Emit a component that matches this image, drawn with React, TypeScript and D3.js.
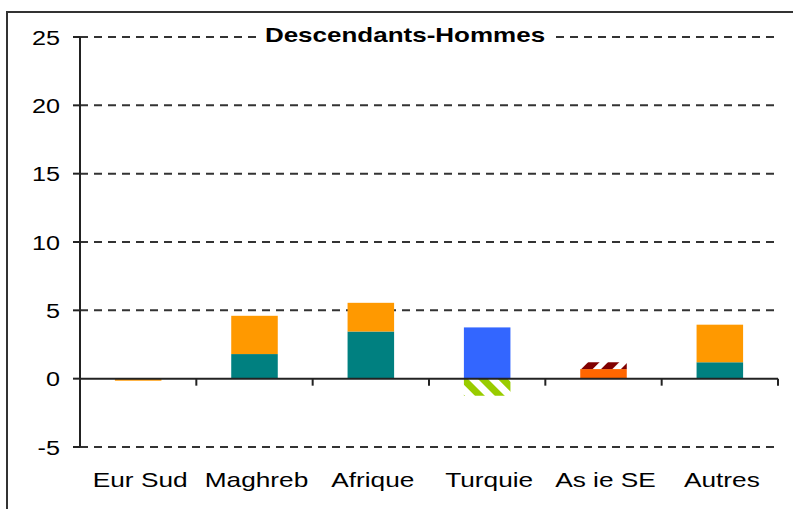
import * as d3 from 'd3';

const categories = ['Eur Sud', 'Maghreb', 'Afrique', 'Turquie', 'As ie SE', 'Autres'];
const yTicks = [-5, 0, 5, 10, 15, 20, 25];

// stacked series
const tealVals = [0, 1.8, 3.45, 0, 0, 1.2];
const orangeVals = [-0.15, 2.8, 2.1, 0, 0, 2.75];
const blueVals = [0, 0, 0, 3.75, 0, 0];
const greenVals = [0, 0, 0, -1.25, 0, 0];
const redOrangeVals = [0, 0, 0, 0, 0.7, 0];
const darkRedVals = [0, 0, 0, 0, 0.5, 0];

const seriesKeys = ['teal', 'orange', 'blue', 'green', 'redOrange', 'darkRed'];
const fills: Record<string, string> = {
  teal: '#008080', orange: '#FF9900', blue: '#3366FF',
  green: 'url(#hatchGreen)', redOrange: '#FF6600', darkRed: 'url(#hatchRed)',
};

const font = 'Liberation Sans, Arial, sans-serif';

// old excel export: text looks stretched sideways
function Wide({ x, y, anchor, size, bold, sx, children }: any) {
  return (
    <text transform={`translate(${x},${y}) scale(${sx},1)`} textAnchor={anchor}
      fontFamily={font} fontSize={size} fontWeight={bold ? 'bold' : 'normal'} fill="#000">{children}</text>
  );
}

export default function App() {
  const W = 793, H = 509;
  const m = { left: 80, right: 15, top: 37, bottom: 62 };
  const rows = categories.map((c, i) => ({
    cat: c, teal: tealVals[i], orange: orangeVals[i], blue: blueVals[i],
    green: greenVals[i], redOrange: redOrangeVals[i], darkRed: darkRedVals[i],
  }));
  const stacked = d3.stack<any>().keys(seriesKeys).offset(d3.stackOffsetDiverging)(rows);

  const x = d3.scaleBand().domain(categories).range([m.left, W - m.right]).paddingInner(0.6).paddingOuter(0.3);
  const xb = d3.scaleBand().domain(categories).range([m.left, W - m.right]);
  const y = d3.scaleLinear().domain([-5, 25]).range([H - m.bottom, m.top]);

  return (
    <svg width={W} height={H} style={{ position: 'absolute', left: 0, top: 0 }}>
      <defs>
        <pattern id="hatchGreen" patternUnits="userSpaceOnUse" width="14" height="14" patternTransform="rotate(-45)">
          <rect x="0" y="0" width="7" height="14" fill="#99CC00" />
        </pattern>
        <pattern id="hatchRed" patternUnits="userSpaceOnUse" width="14" height="14" patternTransform="rotate(45)">
          <rect x="0" y="0" width="8" height="14" fill="#800000" />
        </pattern>
      </defs>
      <rect x={0} y={0} width={W} height={H} fill="#fff" />
      <rect x={7} y={12} width={W + 20} height={H + 20} fill="none" stroke="#333" strokeWidth={2} />

      {/* gridlines */}
      {yTicks.filter(t => t !== 0).map(t => (
        <line key={t} x1={m.left} x2={W - m.right} y1={y(t)} y2={y(t)} stroke="#333" strokeWidth={2} strokeDasharray="8,6" />
      ))}

      {/* bars */}
      {stacked.map(s => (
        <g key={s.key} fill={fills[s.key]}>
          {s.map((d, i) => d[1] - d[0] === 0 ? null : (
            <rect key={i} x={x(categories[i])} width={x.bandwidth()}
              y={y(Math.max(d[0], d[1]))} height={Math.abs(y(d[0]) - y(d[1]))} />
          ))}
        </g>
      ))}

      {/* y axis */}
      <line x1={m.left} x2={m.left} y1={y(25)} y2={y(-5)} stroke="#222" strokeWidth={2} />
      {yTicks.map(t => (
        <g key={t}>
          <line x1={m.left - 7} x2={m.left} y1={y(t)} y2={y(t)} stroke="#222" strokeWidth={2} />
          <Wide x={60} y={y(t) + 7.5} anchor="end" size={21} sx={1.2}>{t}</Wide>
        </g>
      ))}

      {/* x axis */}
      <line x1={m.left} x2={W - m.right} y1={y(0)} y2={y(0)} stroke="#222" strokeWidth={2} />
      {categories.map(c => (
        <line key={c} x1={xb(c)! + xb.bandwidth()} x2={xb(c)! + xb.bandwidth()} y1={y(0)} y2={y(0) + 7} stroke="#222" strokeWidth={2} />
      ))}
      {categories.map(c => (
        <Wide key={c} x={xb(c)! + xb.bandwidth() / 2 + 2} y={487} anchor="middle" size={21} sx={1.25}>{c}</Wide>
      ))}

      {/* title */}
      <rect x={256} y={25} width={295} height={24} fill="#fff" />
      <Wide x={405} y={42} anchor="middle" size={20} bold sx={1.3}>Descendants-Hommes</Wide>
    </svg>
  );
}
